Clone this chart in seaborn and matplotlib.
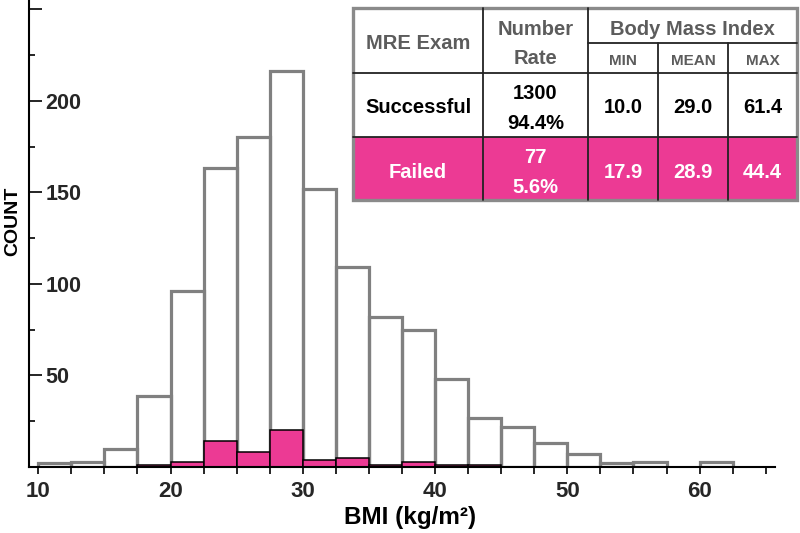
import numpy as np
import pandas as pd
import matplotlib
matplotlib.use("Agg")
import matplotlib.pyplot as plt
import seaborn as sns
from matplotlib.patches import Rectangle

# ---------------- data ----------------
bin_edges = [10, 12.5, 15, 17.5, 20, 22.5, 25, 27.5, 30, 32.5, 35, 37.5, 40,
             42.5, 45, 47.5, 50, 52.5, 55, 57.5, 60, 62.5]
successful_counts = [2, 3, 10, 39, 96, 163, 180, 216, 152, 109, 82, 75, 48,
                     27, 22, 13, 7, 2, 3, 0, 3]
failed_counts = [0, 0, 0, 1, 3, 14, 8, 20, 4, 5, 1, 3, 1, 1, 0, 0, 0, 0, 0, 0, 0]

x_ticks = [10, 20, 30, 40, 50, 60]
y_ticks = [50, 100, 150, 200, 250]
y_tick_labels = ["50", "100", "150", "200", ""]

table_header_cols = ["MRE Exam", "Number", "Rate", "Body Mass Index"]
table_sub_cols = ["MIN", "MEAN", "MAX"]
row_names = ["Successful", "Failed"]
row_numbers = ["1300", "77"]
row_rates = ["94.4%", "5.6%"]
row_min = ["10.0", "17.9"]
row_mean = ["29.0", "28.9"]
row_max = ["61.4", "44.4"]

PINK = "#EC3A94"
GRAY = "#808080"
HEAD = "#5c5c5c"

# ---------------- style ----------------
sns.set_theme(style="white")
plt.rcParams["font.family"] = ["Liberation Sans", "DejaVu Sans"]
plt.rcParams["font.weight"] = "bold"

fig = plt.figure(figsize=(8, 5.33), dpi=100)
ax = fig.add_axes([29 / 800, 1 - 467 / 533, 746 / 800, 467 / 533])

centers = [(bin_edges[i] + bin_edges[i + 1]) / 2 for i in range(len(bin_edges) - 1)]
df = pd.DataFrame({"bmi": centers, "succ": successful_counts, "fail": failed_counts})

sns.histplot(data=df, x="bmi", weights="succ", bins=bin_edges, fill=False,
             color=GRAY, linewidth=2.3, ax=ax, zorder=1)
n_gray = len(ax.patches)
sns.histplot(data=df[(df.bmi > 17.5) & (df.bmi < 45)], x="bmi", weights="fail",
             bins=bin_edges[3:15], color=PINK, alpha=1, edgecolor="black",
             linewidth=1.1, ax=ax, zorder=2)
for p in ax.patches[:n_gray]:
    if p.get_height() == 0:
        p.set_visible(False)

ax.set_xlim(9.3, 65.7)
ax.set_ylim(0, 255)

for s in ["top", "right"]:
    ax.spines[s].set_visible(False)
for s in ["left", "bottom"]:
    ax.spines[s].set_color("black")
    ax.spines[s].set_linewidth(1.5)

ax.set_xticks(x_ticks)
ax.set_xticklabels([str(t) for t in x_ticks], fontsize=16, fontweight="bold")
ax.set_xticks(np.arange(10, 65.1, 2.5), minor=True)
ax.tick_params(axis="x", which="both", direction="out", length=5, width=1.2,
               color="black", pad=5, bottom=True)

ax.set_yticks(y_ticks)
ax.set_yticklabels(y_tick_labels, fontsize=15.5, fontweight="bold")
ax.set_yticks(np.arange(25, 251, 50), minor=True)
ax.tick_params(axis="y", which="major", direction="in", length=9, width=1.2,
               color="black", pad=-12, left=True)
ax.tick_params(axis="y", which="minor", direction="in", length=4.5, width=1.2,
               color="black", left=True)

ax.set_xlabel("BMI (kg/m²)", fontsize=17.5, fontweight="bold", color="black")
ax.xaxis.set_label_coords(0.511, -0.083)
ax.set_ylabel("COUNT", fontsize=14, fontweight="bold", color="black")
ax.yaxis.set_label_coords(-0.011, 0.527)

plt.setp(ax.get_yticklabels(), ha="left")

# ---------------- table overlay ----------------
tx = fig.add_axes([0, 0, 1, 1], zorder=10)
tx.set_xlim(0, 800)
tx.set_ylim(533, 0)
tx.axis("off")
tx.patch.set_alpha(0)

xL, x1, x2, x3, x4, xR = 353, 483, 588, 658, 728, 797
yT, yS, yH, yR, yB = 8, 43, 73, 137, 200

tx.add_patch(Rectangle((xL, yT), xR - xL, yR - yT, facecolor="white", edgecolor="none"))
tx.add_patch(Rectangle((xL, yR), xR - xL, yB - yR, facecolor=PINK, edgecolor="none"))
lc = "#222222"
for xv in [x1, x2]:
    tx.plot([xv, xv], [yT, yB], color=lc, lw=1.3)
for xv in [x3, x4]:
    tx.plot([xv, xv], [yS, yB], color=lc, lw=1.3)
tx.plot([x2, xR], [yS, yS], color=lc, lw=1.3)
tx.plot([xL, xR], [yH, yH], color=lc, lw=1.3)
tx.plot([xL, xR], [yR, yR], color=lc, lw=1.3)
tx.add_patch(Rectangle((xL, yT), xR - xL, yB - yT, facecolor="none",
                       edgecolor="#8a8a8a", lw=2.4))

def t(x, y, s, size, color):
    tx.text(x, y, s, ha="center", va="baseline", fontsize=size,
            fontweight="bold", color=color)

c0 = (xL + x1) / 2
c1 = (x1 + x2) / 2
c2 = (x2 + x3) / 2
c3 = (x3 + x4) / 2
c4 = (x4 + xR) / 2
cb = (x2 + xR) / 2

t(c0, 49, table_header_cols[0], 14.5, HEAD)
t(c1, 35, table_header_cols[1], 14.5, HEAD)
t(c1, 64, table_header_cols[2], 14.5, HEAD)
t(cb, 35, table_header_cols[3], 14.5, HEAD)
for cx, s in zip([c2, c3, c4], table_sub_cols):
    t(cx, 65, s, 11, HEAD)

colors = ["black", "white"]
name_y = [113, 178]
num_y = [99, 163]
rate_y = [129, 193]
for i in range(2):
    t(c0, name_y[i], row_names[i], 14.5, colors[i])
    t(c1, num_y[i], row_numbers[i], 14.5, colors[i])
    t(c1, rate_y[i], row_rates[i], 14.5, colors[i])
    t(c2, name_y[i], row_min[i], 14.5, colors[i])
    t(c3, name_y[i], row_mean[i], 14.5, colors[i])
    t(c4, name_y[i], row_max[i], 14.5, colors[i])

fig.savefig("out.png", dpi=100)
